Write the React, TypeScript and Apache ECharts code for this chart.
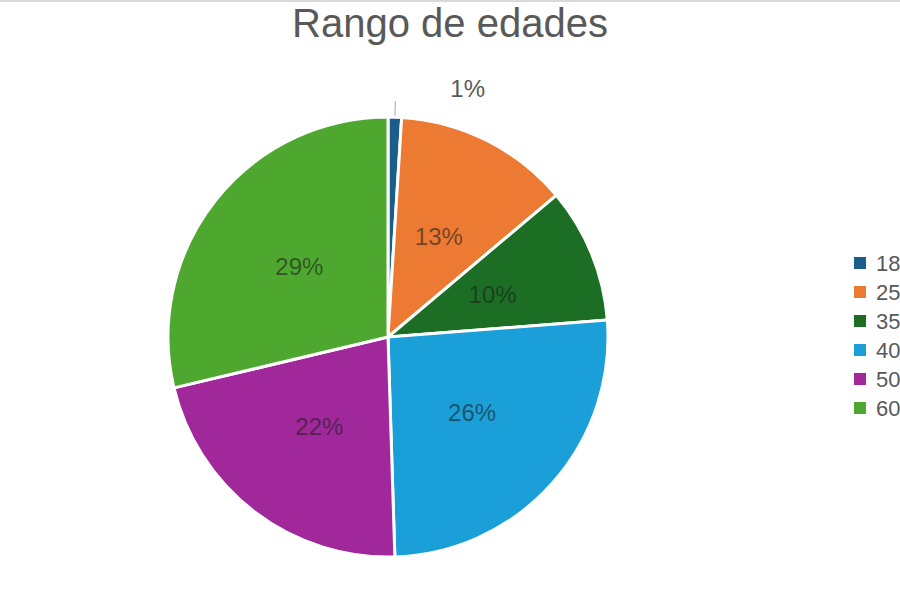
import * as echarts from "echarts"
import { useEffect, useRef } from "react"

const categories = ["18-24", "25-34", "35-39", "40-49", "50-59", "60+"]
const counts = [1, 13, 10, 26, 22, 29]
const colors = ["#1b5e8a", "#ec7a33", "#1b6e23", "#1a9fd9", "#a0289a", "#4ea72e"]

const pct = (p: any) => `${Math.round(p.percent)}%`

export default function App(): React.ReactElement {
  const ref = useRef<HTMLDivElement>(null)

  useEffect(() => {
    const node = ref.current
    if (!node) return
    const chart = echarts.init(node, undefined, { renderer: "svg" })

    const data = categories.map((name, i) => {
      const item: any = { name, value: counts[i], itemStyle: { color: colors[i] } }
      // the tiny slice gets its label outside, like the original
      if (i === 0) {
        item.label = {
          position: "outside",
          padding: [0, 0, 0, 50],
          formatter: (p: any) => `{t|${pct(p)}}\n{g| }`,
          rich: {
            t: { fontSize: 24, color: "#595959" },
            g: { height: 26, fontSize: 10 },
          },
        }
        item.labelLine = { show: true, length: 16, length2: 0, lineStyle: { color: "#a6a6a6", width: 1 } }
      }
      return item
    })

    chart.setOption({
      animation: false,
      backgroundColor: "#ffffff",
      textStyle: { fontFamily: "Liberation Sans, Arial, sans-serif" },
      title: {
        text: "Rango de edades",
        left: "center",
        top: -2,
        textStyle: { fontSize: 40, fontWeight: "normal", color: "#595959" },
      },
      legend: {
        orient: "vertical",
        left: 847,
        top: 247,
        itemWidth: 14,
        itemHeight: 14,
        itemGap: 7,
        icon: "rect",
        textStyle: { fontSize: 22, color: "#595959", padding: [0, 0, 0, 4] },
        data: categories,
      },
      graphic: [
        {
          type: "line",
          shape: { x1: 0, y1: 1, x2: 900, y2: 1 },
          style: { stroke: "#d9d9d9", lineWidth: 2 },
        },
      ],
      series: [
        {
          type: "pie",
          center: [388, 337],
          radius: 220,
          startAngle: 90,
          clockwise: true,
          avoidLabelOverlap: false,
          itemStyle: { borderColor: "#ffffff", borderWidth: 3 },
          label: {
            show: true,
            position: "inside",
            fontSize: 24,
            color: "rgba(30,30,30,0.6)",
            formatter: pct,
          },
          labelLine: { show: false },
          emphasis: { disabled: true },
          data,
        },
      ],
    })

    return () => chart.dispose()
  }, [])

  return (
    <div
      ref={ref}
      style={{ position: "fixed", top: 0, left: 0, width: 900, height: 600 }}
    />
  )
}
